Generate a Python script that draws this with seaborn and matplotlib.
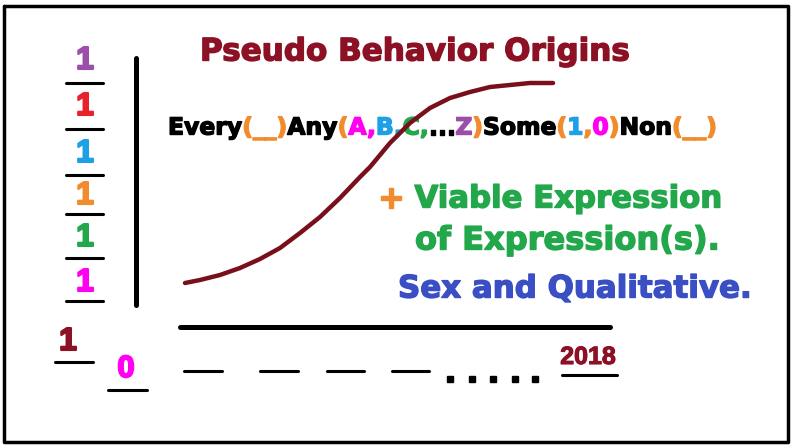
import matplotlib
matplotlib.use("Agg")
import matplotlib.pyplot as plt
import matplotlib.patheffects as pe
import seaborn as sns

# curve (pixel space, y down)
curve_x = [185, 200, 220, 240, 260, 280, 300, 320, 340, 360, 370, 390, 410, 430, 450, 470, 490, 510, 530, 553]
curve_y = [283, 280, 275, 268, 259, 248, 233, 217, 198, 177, 167, 143, 123, 108, 98, 92, 87, 85, 83, 83]

left_digits = ["1", "1", "1", "1", "1", "1"]
left_colors = ["#9B4FA8", "#E8212B", "#1EA0E6", "#F28A2E", "#22A84A", "#FF00F0"]

year_start = "0"
year_end = "2018"

title = "Pseudo Behavior Origins"
formula = [("Every", "black"), ("(__)", "#F28A2E"), ("Any", "black"), ("(", "#F28A2E"),
           ("A,", "#FF00F0"), ("B,", "#1EA0E6"), ("C,", "#22A84A"), ("...", "black"),
           ("Z", "#9B4FA8"), (")", "#F28A2E"), ("Some", "black"), ("(", "#F28A2E"),
           ("1", "#1EA0E6"), (",", "#F28A2E"), ("0", "#FF00F0"), (")", "#F28A2E"),
           ("Non", "black"), ("(__)", "#F28A2E")]
note1 = [("+ ", "#F28A2E"), ("Viable Expression", "#22A84A")]
note2 = [("of Expression(s).", "#22A84A")]
note3 = [("Sex and Qualitative.", "#3A4FC4")]

DARKRED = "#8C1124"

sns.set_style("white")
plt.rcParams["font.family"] = ["DejaVu Sans"]

fig = plt.figure(figsize=(7.92, 4.45), dpi=100)
ax = fig.add_axes([0, 0, 1, 1])
ax.set_xlim(0, 792)
ax.set_ylim(445, 0)
ax.axis("off")
renderer = fig.canvas.get_renderer()


def heavy(c, w=1.0):
    return [pe.withStroke(linewidth=w, foreground=c)]


def row(pieces, x0, x1, y):
    # fit a multi-colour line of text between x0 and x1
    probe = [ax.text(0, 0, t, fontsize=10, fontweight="bold") for t, c in pieces]
    w = sum(p.get_window_extent(renderer).width for p in probe)
    for p in probe:
        p.remove()
    size = 10 * (x1 - x0) / w
    x = x0
    for t, c in pieces:
        txt = ax.text(x, y, t, fontsize=size, fontweight="bold", color=c,
                      ha="left", va="center", path_effects=heavy(c))
        x += txt.get_window_extent(renderer).width


def digit(x, y, s, c, size, w=1.5):
    ax.text(x, y, s, fontsize=size, fontweight="bold", color=c, ha="center", va="center",
            family="Liberation Sans", path_effects=heavy(c, w))


# border
ax.plot([4, 788, 788, 4, 4], [6, 6, 442, 442, 6], color="black", lw=2.5)

row([(title, DARKRED)], 200, 630, 52)
row(formula, 168, 718, 128)
row(note1, 378, 722, 199)
row(note2, 415, 720, 241)
row(note3, 398, 752, 289)

sns.lineplot(x=curve_x, y=curve_y, color="#7A0F1C", lw=3.2, ax=ax, zorder=5)

# left stack of ones
ones_y = [61, 107, 154, 196, 238, 283]
bars_y = [83, 129, 175, 214, 258, 301]
for d, c, yy, by in zip(left_digits, left_colors, ones_y, bars_y):
    digit(85, yy, d, c, 23)
    ax.plot([66, 103], [by, by], color="black", lw=2.2)

# axes
ax.plot([136, 136], [58, 305], color="black", lw=3.6, solid_capstyle="round")
ax.plot([180, 610], [327, 327], color="black", lw=3.6, solid_capstyle="round")

# bottom row
digit(68, 342, "1", DARKRED, 23)
ax.plot([55, 93], [362, 362], color="black", lw=2.2)
digit(126, 369, year_start, "#FF00F0", 22)
ax.plot([108, 147], [390, 390], color="black", lw=2.2)
for a, b in [(184, 222), (260, 298), (327, 364), (392, 429)]:
    ax.plot([a, b], [371, 371], color="black", lw=2.2)
ax.plot([450, 472, 493, 515, 535], [379] * 5, "s", color="black", ms=4.5, ls="none")
digit(588, 357, year_end, DARKRED, 18, 0.8)
ax.plot([562, 617], [375, 375], color="black", lw=2.2)

fig.savefig("out.png", dpi=100)
